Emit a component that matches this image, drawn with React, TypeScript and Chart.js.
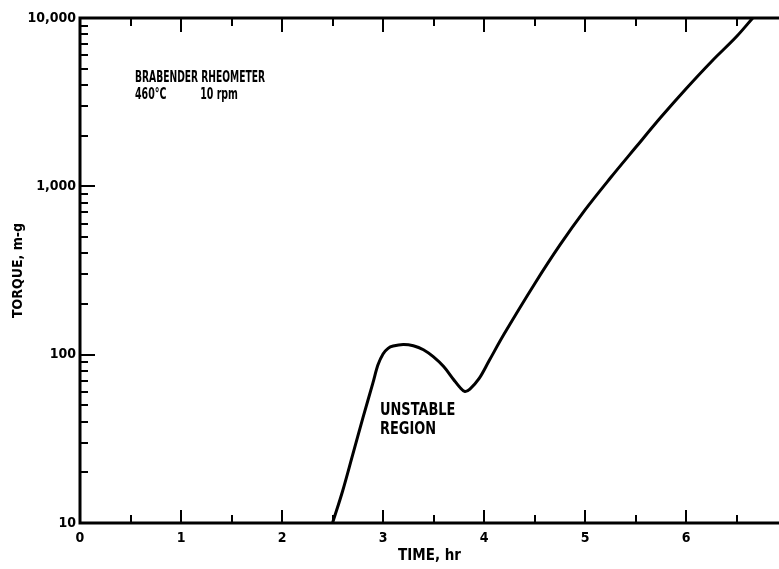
import React, { useEffect, useRef } from 'react';
import { Chart, registerables } from 'chart.js';

Chart.register(...registerables);

// ---- data ----
const timeHr = [2.5, 2.6, 2.7, 2.8, 2.9, 2.95, 3.0, 3.05, 3.1, 3.2, 3.3, 3.4, 3.5, 3.6, 3.7, 3.76, 3.81, 3.86, 3.95, 4.05, 4.2, 4.5, 4.75, 5.0, 5.25, 5.5, 5.75, 6.0, 6.25, 6.5, 6.66];
const torque = [10, 15.5, 25.5, 42, 68, 87, 101, 109, 112.5, 115, 113, 107, 97, 85, 71, 64, 60.5, 62.5, 72, 92, 133, 263, 447, 724, 1120, 1700, 2570, 3800, 5500, 7760, 10000];

const xMajorTicks = [0, 1, 2, 3, 4, 5, 6];
const xTickLabels = ['0', '1', '2', '3', '4', '5', '6'];
const xMinorTicks = [0.5, 1.5, 2.5, 3.5, 4.5, 5.5, 6.5];
const yMajorTicks = [10, 100, 1000, 10000];
const yTickLabels = ['10', '100', '1,000', '10,000'];
const yMinorMultipliers = [2, 3, 4, 5, 6, 7, 8, 9];

const xMin = 0;
const xMax = 6.92;
const yMin = 10;
const yMax = 10000;

const xTitle = 'TIME, hr';
const yTitle = 'TORQUE, m-g';

const notes = [
  { text: 'BRABENDER RHEOMETER', t: 0.545, v: 4400, size: 15, sx: 0.68 },
  { text: '460°C', t: 0.545, v: 3470, size: 15, sx: 0.7 },
  { text: '10 rpm', t: 1.19, v: 3470, size: 15, sx: 0.7 },
  { text: 'UNSTABLE', t: 2.97, v: 47, size: 18, sx: 0.8 },
  { text: 'REGION', t: 2.97, v: 35.8, size: 18, sx: 0.8 },
];

const FONT = "'DejaVu Sans Condensed', 'DejaVu Sans', sans-serif";

const frameTicks = {
  id: 'frameTicks',
  afterDatasetsDraw(chart: any) {
    const { ctx, chartArea: a, scales } = chart;
    const x = scales.x;
    const y = scales.y;
    ctx.save();
    ctx.strokeStyle = '#000';
    ctx.lineCap = 'butt';
    ctx.lineWidth = 3;
    ctx.beginPath();
    ctx.moveTo(a.left - 1.5, a.top);
    ctx.lineTo(a.right, a.top);
    ctx.moveTo(a.left, a.top - 1.5);
    ctx.lineTo(a.left, a.bottom + 1.5);
    ctx.moveTo(a.left - 1.5, a.bottom);
    ctx.lineTo(a.right, a.bottom);
    ctx.stroke();

    ctx.lineWidth = 2;
    ctx.beginPath();
    for (const v of xMajorTicks) {
      const px = Math.round(x.getPixelForValue(v));
      ctx.moveTo(px, a.bottom);
      ctx.lineTo(px, a.bottom - 13);
      ctx.moveTo(px, a.top);
      ctx.lineTo(px, a.top + 14);
    }
    for (const v of xMinorTicks) {
      const px = Math.round(x.getPixelForValue(v));
      ctx.moveTo(px, a.bottom);
      ctx.lineTo(px, a.bottom - 8);
      ctx.moveTo(px, a.top);
      ctx.lineTo(px, a.top + 8);
    }
    for (const v of yMajorTicks) {
      const py = Math.round(y.getPixelForValue(v));
      ctx.moveTo(a.left, py);
      ctx.lineTo(a.left + 15, py);
      if (v < yMax) {
        for (const m of yMinorMultipliers) {
          const pm = Math.round(y.getPixelForValue(v * m));
          ctx.moveTo(a.left, pm);
          ctx.lineTo(a.left + 8, pm);
        }
      }
    }
    ctx.stroke();

    ctx.fillStyle = '#000';
    ctx.textBaseline = 'middle';
    ctx.textAlign = 'left';
    for (const n of notes) {
      ctx.save();
      ctx.font = `bold ${n.size}px ${FONT}`;
      ctx.translate(x.getPixelForValue(n.t), y.getPixelForValue(n.v));
      ctx.scale(n.sx, 1);
      ctx.fillText(n.text, 0, 0);
      ctx.restore();
    }
    ctx.restore();
  },
};

export default function App() {
  const ref = useRef<HTMLCanvasElement | null>(null);

  useEffect(() => {
    if (!ref.current) return;
    const chart = new Chart(ref.current, {
      type: 'line',
      data: {
        datasets: [
          {
            data: timeHr.map((t, i) => ({ x: t, y: torque[i] })),
            borderColor: '#000',
            borderWidth: 3,
            pointRadius: 0,
            fill: false,
            tension: 0.35,
          },
        ],
      },
      options: {
        animation: false,
        responsive: false,
        maintainAspectRatio: false,
        layout: { padding: { left: 0, top: 18, right: 0, bottom: 0 } },
        plugins: { legend: { display: false }, tooltip: { enabled: false } },
        scales: {
          x: {
            type: 'linear',
            min: xMin,
            max: xMax,
            grid: { display: false, drawTicks: false },
            border: { display: false },
            afterBuildTicks: (s: any) => {
              s.ticks = xMajorTicks.map((v) => ({ value: v }));
            },
            afterFit: (s: any) => {
              s.height = 46;
            },
            ticks: {
              padding: 7,
              color: '#000',
              maxRotation: 0,
              autoSkip: false,
              font: { family: FONT, size: 14, weight: 'bold' },
              callback: (v: any) => {
                const i = xMajorTicks.indexOf(Number(v));
                return i >= 0 ? xTickLabels[i] : '';
              },
            },
            title: {
              display: true,
              text: xTitle,
              color: '#000',
              font: { family: FONT, size: 15, weight: 'bold' },
              padding: { top: 0, bottom: 4 },
            },
          },
          y: {
            type: 'logarithmic',
            min: yMin,
            max: yMax,
            grid: { display: false, drawTicks: false },
            border: { display: false },
            afterBuildTicks: (s: any) => {
              s.ticks = yMajorTicks.map((v) => ({ value: v }));
            },
            afterFit: (s: any) => {
              s.width = 80;
            },
            ticks: {
              padding: 4,
              color: '#000',
              autoSkip: false,
              font: { family: FONT, size: 14, weight: 'bold' },
              callback: (v: any) => {
                const i = yMajorTicks.indexOf(Number(v));
                return i >= 0 ? yTickLabels[i] : '';
              },
            },
            title: {
              display: true,
              text: yTitle,
              color: '#000',
              font: { family: FONT, size: 14, weight: 'bold' },
              padding: { top: 10, bottom: 0 },
            },
          },
        },
      },
      plugins: [frameTicks],
    } as any);
    return () => chart.destroy();
  }, []);

  return (
    <div style={{ position: 'fixed', left: 0, top: 0, width: 779, height: 569, background: '#fff' }}>
      <canvas ref={ref} width={779} height={569} style={{ display: 'block', width: 779, height: 569 }} />
    </div>
  );
}
